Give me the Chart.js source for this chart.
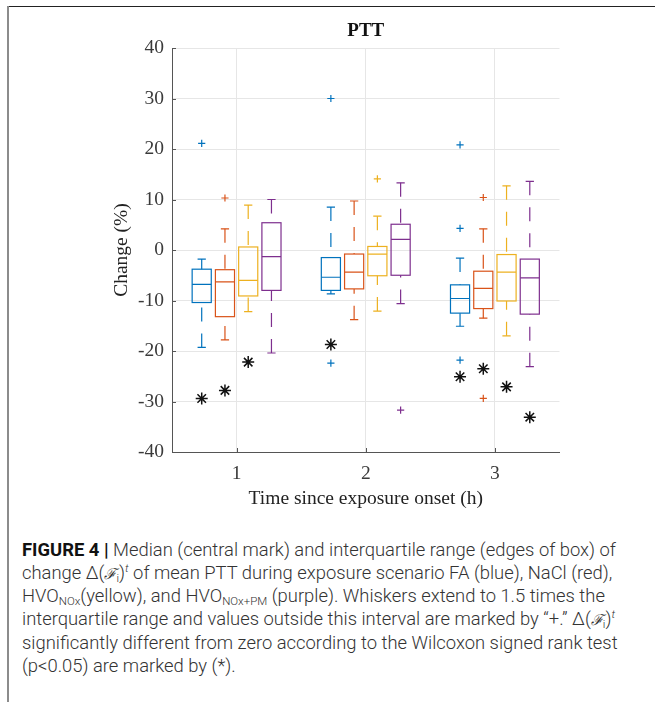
<!DOCTYPE html>
<html>
<head>
<meta charset="utf-8">
<script src="https://cdn.jsdelivr.net/npm/chart.js@4.4.1/dist/chart.umd.min.js"></script>
<style>
  html, body { margin: 0; padding: 0; background: #fff; }
  body { width: 655px; height: 702px; position: relative; overflow: hidden; }
  #frameTop { position: absolute; left: 7px; top: 6px; width: 648px; height: 1px; background: #222; }
  #frameLeft { position: absolute; left: 7px; top: 6px; width: 2px; height: 696px; background: #8c8c8c; }
  #chartBox { position: absolute; left: 0; top: 0; width: 655px; height: 520px; }
  #caption {
    position: absolute; left: 22px; top: 539px;
    font-family: "Roboto", "Liberation Sans", sans-serif; font-weight: 300;
    font-size: 18.4px; line-height: 22.7px; color: #333; white-space: nowrap;
  }
  #caption b { color: #111; font-weight: 700; }
  #caption sub { font-size: 11.5px; vertical-align: -3px; line-height: 0; }
  #caption sup { font-size: 11.5px; vertical-align: 7px; line-height: 0; font-style: italic; }
  .scr { font-family: "DejaVu Serif", serif; font-style: italic; font-size: 15px; }
</style>
</head>
<body>
<div id="frameTop"></div>
<div id="frameLeft"></div>
<div id="chartBox"><canvas id="pttChart" width="655" height="520"></canvas></div>
<div id="caption">
<b>FIGURE 4 |</b> Median (central mark) and interquartile range (edges of box) of<br>
change &Delta;(<span class="scr">&#x2131;</span><sub>i</sub>)<sup>t</sup> of mean PTT during exposure scenario FA (blue), NaCl (red),<br>
HVO<sub>NOx</sub>(yellow), and HVO<sub>NOx+PM</sub> (purple). Whiskers extend to 1.5 times the<br>
interquartile range and values outside this interval are marked by &ldquo;+.&rdquo; &Delta;(<span class="scr">&#x2131;</span><sub>i</sub>)<sup>t</sup><br>
significantly different from zero according to the Wilcoxon signed rank test<br>
(p&lt;0.05) are marked by (*).
</div>
<script>
// categories
const hours = [1, 2, 3];
const scenarios = ['FA', 'NaCl', 'HVO NOx', 'HVO NOx+PM'];

// FA (blue)
const faLow  = [-19.3, -8.7, -15.1];
const faQ1   = [-10.4, -8.0, -12.5];
const faMed  = [-6.8, -5.4, -9.6];
const faQ3   = [-3.8, -1.5, -6.9];
const faHigh = [-1.8, 8.5, -1.6];
const faOut  = [[21.1], [30.0, -22.4], [20.8, 4.3, -21.8]];
const faSig  = [-29.4, -18.7, -25.1];

// NaCl (red)
const naclLow  = [-17.8, -13.8, -13.5];
const naclQ1   = [-13.2, -7.7, -11.6];
const naclMed  = [-6.3, -4.4, -7.6];
const naclQ3   = [-3.9, -0.8, -4.2];
const naclHigh = [4.2, 9.7, 4.2];
const naclOut  = [[10.3], [], [10.4, -29.4]];
const naclSig  = [-27.8, null, -23.5];

// HVO NOx (yellow)
const noxLow  = [-12.2, -12.1, -17.0];
const noxQ1   = [-9.1, -5.1, -10.1];
const noxMed  = [-6.0, -0.8, -4.4];
const noxQ3   = [0.6, 0.7, -0.9];
const noxHigh = [8.9, 6.7, 12.7];
const noxOut  = [[], [14.1], []];
const noxSig  = [-22.2, null, -27.1];

// HVO NOx+PM (purple)
const pmLow  = [-20.4, -10.6, -23.1];
const pmQ1   = [-8.0, -5.0, -12.7];
const pmMed  = [-1.3, 2.1, -5.5];
const pmQ3   = [5.4, 5.1, -1.8];
const pmHigh = [10.0, 13.3, 13.6];
const pmOut  = [[], [-31.7], []];
const pmSig  = [null, null, -33.1];

const yTicks = [-40, -30, -20, -10, 0, 10, 20, 30, 40];

const colors = ['#0072BD', '#D95319', '#EDB120', '#7E2F8E'];
const offsets = [-0.27, -0.09, 0.09, 0.27];
const boxHalf = 0.074;
const capHalf = 0.032;

const stats = [
  { low: faLow, q1: faQ1, med: faMed, q3: faQ3, high: faHigh, out: faOut, sig: faSig },
  { low: naclLow, q1: naclQ1, med: naclMed, q3: naclQ3, high: naclHigh, out: naclOut, sig: naclSig },
  { low: noxLow, q1: noxQ1, med: noxMed, q3: noxQ3, high: noxHigh, out: noxOut, sig: noxSig },
  { low: pmLow, q1: pmQ1, med: pmMed, q3: pmQ3, high: pmHigh, out: pmOut, sig: pmSig }
];

const serif = '"Liberation Serif", "Times New Roman", serif';
const axisText = '#3a3a3a';

// outliers (+) and significance markers (*) as scatter datasets
const datasets = [];
stats.forEach((s, k) => {
  const pts = [];
  s.out.forEach((vals, g) => vals.forEach(v => pts.push({ x: hours[g] + offsets[k], y: v })));
  datasets.push({
    label: scenarios[k] + ' outliers', data: pts,
    pointStyle: 'crossRot', rotation: 45, radius: 3.6, borderWidth: 1.2,
    borderColor: colors[k], backgroundColor: colors[k]
  });
});
stats.forEach((s, k) => {
  const pts = [];
  s.sig.forEach((v, g) => { if (v !== null) pts.push({ x: hours[g] + offsets[k], y: v }); });
  datasets.push({
    label: scenarios[k] + ' significant', data: pts,
    pointStyle: 'star', radius: 6, borderWidth: 1.5,
    borderColor: '#111', backgroundColor: '#111'
  });
});

// boxes, medians and dashed whiskers
const boxPlugin = {
  id: 'boxes',
  beforeDatasetsDraw(chart) {
    const { ctx, scales: { x, y } } = chart;
    ctx.save();
    ctx.lineWidth = 1.2;
    stats.forEach((s, k) => {
      ctx.strokeStyle = colors[k];
      hours.forEach((h, g) => {
        const xc = x.getPixelForValue(h + offsets[k]);
        const xl = x.getPixelForValue(h + offsets[k] - boxHalf);
        const xr = x.getPixelForValue(h + offsets[k] + boxHalf);
        const cw = x.getPixelForValue(h + offsets[k] + capHalf) - xc;
        const yq1 = y.getPixelForValue(s.q1[g]);
        const yq3 = y.getPixelForValue(s.q3[g]);
        const ym = y.getPixelForValue(s.med[g]);
        const ylo = y.getPixelForValue(s.low[g]);
        const yhi = y.getPixelForValue(s.high[g]);
        ctx.setLineDash([]);
        ctx.strokeRect(xl, yq3, xr - xl, yq1 - yq3);
        ctx.beginPath();
        ctx.moveTo(xl, ym); ctx.lineTo(xr, ym);
        ctx.moveTo(xc - cw, ylo); ctx.lineTo(xc + cw, ylo);
        ctx.moveTo(xc - cw, yhi); ctx.lineTo(xc + cw, yhi);
        ctx.stroke();
        ctx.setLineDash([14, 12]);
        ctx.beginPath();
        ctx.moveTo(xc, ylo); ctx.lineTo(xc, yq1);
        ctx.moveTo(xc, yhi); ctx.lineTo(xc, yq3);
        ctx.stroke();
      });
    });
    ctx.restore();
  }
};

// inward tick marks and the centred title
const decorPlugin = {
  id: 'decor',
  afterDraw(chart) {
    const { ctx, chartArea: a, scales: { x, y } } = chart;
    ctx.save();
    ctx.strokeStyle = '#555';
    ctx.lineWidth = 1;
    ctx.beginPath();
    yTicks.forEach(v => {
      const py = Math.round(y.getPixelForValue(v)) + 0.5;
      ctx.moveTo(a.left, py); ctx.lineTo(a.left + 4, py);
    });
    hours.forEach(h => {
      const px = Math.round(x.getPixelForValue(h)) + 0.5;
      ctx.moveTo(px, a.bottom); ctx.lineTo(px, a.bottom - 4);
    });
    ctx.stroke();
    ctx.fillStyle = '#111';
    ctx.font = 'bold 19px ' + serif;
    ctx.textAlign = 'center';
    ctx.textBaseline = 'middle';
    ctx.fillText('PTT', (a.left + a.right) / 2, a.top - 17);
    ctx.restore();
  }
};

new Chart(document.getElementById('pttChart'), {
  type: 'scatter',
  data: { datasets: datasets },
  options: {
    responsive: false,
    animation: false,
    layout: { padding: { top: 48, right: 95.5, left: 0, bottom: 0 } },
    plugins: {
      legend: { display: false },
      tooltip: { enabled: false },
      title: { display: false }
    },
    scales: {
      x: {
        type: 'linear', min: 0.5, max: 3.5,
        afterBuildTicks: scale => { scale.ticks = hours.map(h => ({ value: h })); },
        afterFit: scale => { scale.height = 68; },
        grid: { color: '#e6e6e6', drawTicks: false },
        border: { color: '#555', width: 1 },
        ticks: { padding: 10, color: axisText, font: { family: serif, size: 19.5 } },
        title: {
          display: true, text: 'Time since exposure onset (h)', color: '#222',
          font: { family: serif, size: 19.5 }, padding: { top: 0, bottom: 9 }
        }
      },
      y: {
        min: -40, max: 40,
        afterBuildTicks: scale => { scale.ticks = yTicks.map(v => ({ value: v })); },
        afterFit: scale => { scale.width = 172; },
        grid: { color: '#e6e6e6', drawTicks: false },
        border: { color: '#555', width: 1 },
        ticks: { padding: 8, color: axisText, font: { family: serif, size: 19.5 } },
        title: {
          display: true, text: 'Change (%)', color: '#222',
          font: { family: serif, size: 19.5 }, padding: { top: 110, bottom: 0 }
        }
      }
    }
  },
  plugins: [boxPlugin, decorPlugin]
});
</script>
</body>
</html>
